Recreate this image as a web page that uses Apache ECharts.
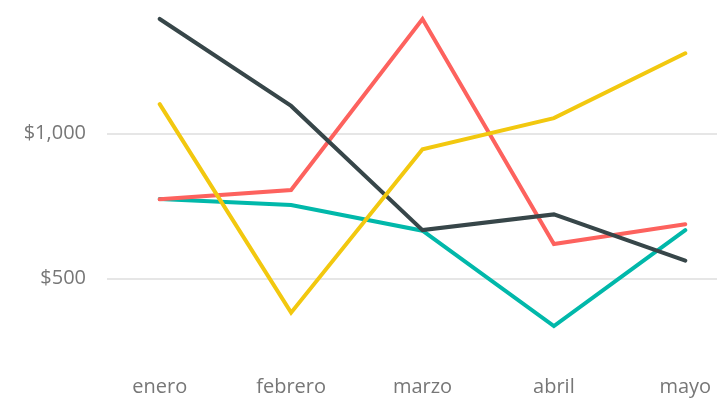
<!DOCTYPE html>
<html>
<head>
<meta charset="utf-8">
<script src="https://cdn.jsdelivr.net/npm/echarts@6/dist/echarts.min.js"></script>
<style>
  html, body { margin: 0; padding: 0; background: #fff; }
  #container { width: 717px; height: 401px; }
</style>
</head>
<body>
<div id="container"></div>
<script>
// datos
const meses = ['enero', 'febrero', 'marzo', 'abril', 'mayo'];
const serieTeal = [774, 753, 665, 337, 667];
const serieRoja = [773, 805, 1393, 619, 687];
const serieGris = [1393, 1094, 667, 721, 562];
const serieAmarilla = [1100, 383, 945, 1052, 1275];
const ticksY = [500, 1000];

const dom = document.getElementById('container');
const myChart = echarts.init(dom);

const fuente = '"Open Sans", "Noto Sans", sans-serif';

function linea(nombre, datos, color) {
    return {
        name: nombre,
        type: 'line',
        xAxisIndex: 0,
        yAxisIndex: 0,
        data: datos,
        showSymbol: false,
        symbol: 'none',
        lineStyle: { width: 4, color: color, cap: 'round', join: 'miter' },
        itemStyle: { color: color },
        silent: true
    };
}

const option = {
    animation: false,
    grid: [
        // grid de las lineas de datos
        { left: 159.7, right: 31.7, top: 2.4, height: 363.5 },
        // grid solo para lineas de division y etiquetas del eje y (500 abajo)
        { left: 107, right: 0, top: 2.4, height: 276.3 }
    ],
    xAxis: [
        {
            gridIndex: 0,
            type: 'category',
            data: meses,
            boundaryGap: false,
            axisLine: { show: false },
            axisTick: { show: false },
            splitLine: { show: false },
            axisLabel: { margin: 11, color: '#777777', fontSize: 20, fontFamily: fuente }
        },
        { gridIndex: 1, type: 'value', show: false }
    ],
    yAxis: [
        { gridIndex: 0, type: 'value', min: 200, max: 1450, show: false, splitLine: { show: false } },
        {
            gridIndex: 1,
            type: 'value',
            min: 500,
            max: 1450,
            interval: 500,
            axisLine: { show: false },
            axisTick: { show: false },
            splitLine: { showMaxLine: false, lineStyle: { color: '#e6e6e6', width: 2 } },
            axisLabel: {
                margin: 21,
                color: '#777777',
                fontSize: 20,
                fontFamily: fuente,
                showMaxLabel: false,
                formatter: function (v) {
                    return ticksY.indexOf(v) >= 0 ? '$' + v.toLocaleString('en-US') : '';
                }
            }
        }
    ],
    series: [
        linea('teal', serieTeal, '#01B8AA'),
        linea('roja', serieRoja, '#FD625E'),
        linea('gris', serieGris, '#374649'),
        linea('amarilla', serieAmarilla, '#F2C80F')
    ]
};

myChart.setOption(option);
</script>
</body>
</html>
